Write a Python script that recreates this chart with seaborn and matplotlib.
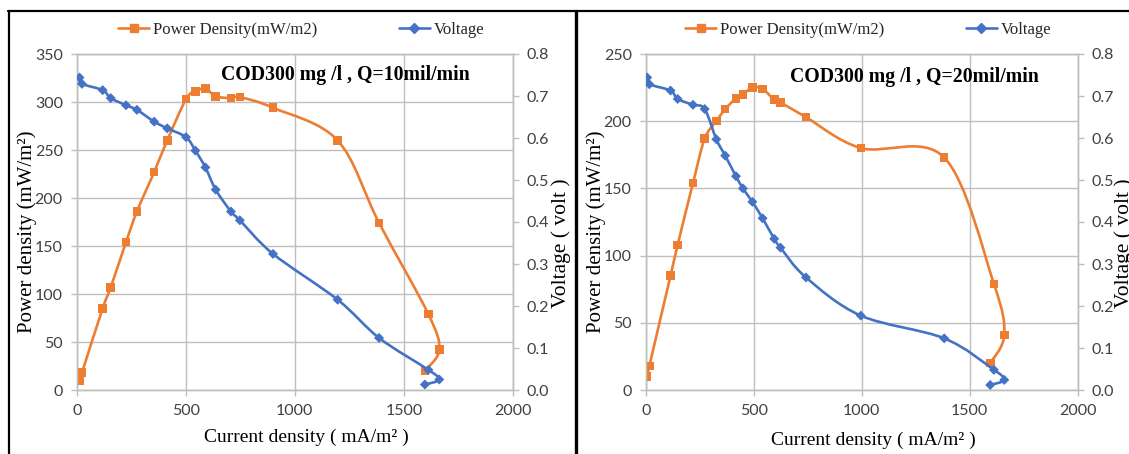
import numpy as np
import matplotlib
matplotlib.use("Agg")
import matplotlib.pyplot as plt
import seaborn as sns
import pandas as pd
from matplotlib.path import Path
from matplotlib.patches import PathPatch
from matplotlib.lines import Line2D

# ---------------- data ----------------
current_q10 = [13, 24, 119, 156, 226, 276, 355, 415, 501, 544, 590, 637, 707, 748, 900, 1196, 1386, 1612, 1662, 1596]
power_q10 = [10, 18, 85, 107, 154, 186, 227, 260, 303, 311, 314, 306, 304, 305, 294, 260, 174, 79, 42, 20]
voltage_q10 = [0.744, 0.729, 0.714, 0.695, 0.678, 0.667, 0.639, 0.623, 0.602, 0.570, 0.530, 0.477,
               0.425, 0.404, 0.324, 0.215, 0.124, 0.048, 0.025, 0.013]

current_q20 = [7, 17, 115, 148, 219, 273, 327, 368, 418, 450, 494, 541, 595, 624, 742, 996, 1382, 1612, 1660, 1595]
power_q20 = [10, 18, 85, 108, 154, 187, 200, 209, 217, 220, 225, 224, 216, 214, 203, 180, 173, 79, 41, 20]
voltage_q20 = [0.744, 0.728, 0.713, 0.693, 0.679, 0.669, 0.597, 0.558, 0.509, 0.480, 0.448, 0.409,
               0.360, 0.339, 0.268, 0.177, 0.123, 0.048, 0.024, 0.012]

titles = ["COD300 mg /l , Q=10mil/min", "COD300 mg /l , Q=20mil/min"]
x_ticks = [0, 500, 1000, 1500, 2000]
y_ticks_left = [list(range(0, 351, 50)), list(range(0, 251, 50))]
y_ticks_right = [0.0, 0.1, 0.2, 0.3, 0.4, 0.5, 0.6, 0.7, 0.8]
legend_labels = ["Power Density(mW/m2)", "Voltage"]

# ---------------- style ----------------
sns.set_theme(style="white")
plt.rcParams["font.family"] = ["Lato", "DejaVu Sans"]

ORANGE = "#ED7D31"
BLUE = "#4472C4"
GRID = "#BFBFBF"
TICKC = "#404040"
SERIF = ["Liberation Serif", "DejaVu Serif"]

W, H = 1129, 454
fig = plt.figure(figsize=(W / 100, H / 100), dpi=100)


def px(x, y):
    return x / W, 1 - y / H


def smooth_path(xs, ys):
    pts = np.column_stack([xs, ys]).astype(float)
    n = len(pts)
    verts = [pts[0]]
    codes = [Path.MOVETO]
    for i in range(n - 1):
        p0 = pts[i - 1] if i > 0 else pts[i]
        p1 = pts[i]
        p2 = pts[i + 1]
        p3 = pts[i + 2] if i + 2 < n else pts[i + 1]
        c1 = p1 + (p2 - p0) / 6.0
        c2 = p2 - (p3 - p1) / 6.0
        verts += [c1, c2, p2]
        codes += [Path.CURVE4] * 3
    return Path(verts, codes)


panels = [
    dict(cur=current_q10, pw=power_q10, v=voltage_q10, ymax=350, x0=76.7, x1=513,
         title=titles[0], tpos=(345, 75), legx=301, ylab_x=27, vlab_x=561, xlab=(306, 437)),
    dict(cur=current_q20, pw=power_q20, v=voltage_q20, ymax=250, x0=645.7, x1=1077.7,
         title=titles[1], tpos=(914, 77), legx=868, ylab_x=596, vlab_x=1124, xlab=(873, 440)),
]

top_px, bot_px = 54, 390
for k, p in enumerate(panels):
    l, b = px(p["x0"], bot_px)
    w = (p["x1"] - p["x0"]) / W
    h = (bot_px - top_px) / H
    ax = fig.add_axes([l, b, w, h])
    ax2 = ax.twinx()

    df = pd.DataFrame({"current": p["cur"], "power": p["pw"], "voltage": p["v"]})

    ax.add_patch(PathPatch(smooth_path(df["current"], df["power"]), facecolor="none",
                           edgecolor=ORANGE, lw=1.9, zorder=3, transform=ax.transData))
    sns.scatterplot(data=df, x="current", y="power", ax=ax, marker="s", s=38,
                    color=ORANGE, edgecolor="none", zorder=4, legend=False)

    ax2.add_patch(PathPatch(smooth_path(df["current"], df["voltage"]), facecolor="none",
                            edgecolor=BLUE, lw=1.9, zorder=3, transform=ax2.transData))
    sns.scatterplot(data=df, x="current", y="voltage", ax=ax2, marker="D", s=26,
                    color=BLUE, edgecolor="none", zorder=4, legend=False)

    ax.set_xlim(0, 2000)
    ax.set_ylim(0, p["ymax"])
    ax2.set_ylim(0, 0.8)
    ax.set_xticks(x_ticks)
    ax.set_yticks(y_ticks_left[k])
    ax2.set_yticks(y_ticks_right)
    ax2.set_yticklabels([f"{t:.1f}" for t in y_ticks_right])
    ax.set_xlabel("")
    ax.set_ylabel("")
    ax2.set_ylabel("")

    ax.grid(True, color=GRID, lw=1.0)
    ax.set_axisbelow(True)
    for a in (ax, ax2):
        for s in a.spines.values():
            s.set_color(GRID)
            s.set_linewidth(1.0)
        a.tick_params(colors=GRID, labelcolor=TICKC, labelsize=11.5, length=4, width=1,
                      direction="out")
    ax.tick_params(axis="both", pad=6)
    ax2.tick_params(axis="y", pad=6, right=True)
    ax.tick_params(axis="y", left=True)
    ax.tick_params(axis="x", bottom=True)

    # title inside plot
    tx, ty = px(*p["tpos"])
    fig.text(tx, ty, p["title"], ha="center", va="center", fontsize=14.2,
             fontweight="bold", family=SERIF, color="black")

    # axis labels
    xx, xy = px(*p["xlab"])
    fig.text(xx, xy, "Current density ( mA/m² )", ha="center", va="center",
             fontsize=14, family=SERIF, color="black")
    yx, yy = px(p["ylab_x"], 232)
    fig.text(yx, yy, "Power density (mW/m²)", ha="center", va="center", rotation=90,
             fontsize=15, family=SERIF, color="black")
    vx, vy = px(p["vlab_x"], 243)
    fig.text(vx, vy, "Voltage ( volt )", ha="center", va="center", rotation=90,
             fontsize=15.5, family=SERIF, color="black")

    # legend on top
    handles = [Line2D([0], [0], color=ORANGE, lw=1.9, marker="s", ms=6),
               Line2D([0], [0], color=BLUE, lw=1.9, marker="D", ms=5)]
    lx, ly = px(p["legx"], 30)
    fig.legend(handles, legend_labels, loc="center", bbox_to_anchor=(lx, ly), ncol=2,
               frameon=False, handlelength=1.9, handletextpad=0.2, columnspacing=4.9,
               prop={"family": SERIF, "size": 12})

# black frame lines of the source figure
fig.add_artist(Line2D([8 / W, 1], [1 - 11 / H, 1 - 11 / H], color="black", lw=1.6,
                      transform=fig.transFigure))
fig.add_artist(Line2D([9 / W, 9 / W], [0, 1 - 11 / H], color="black", lw=1.6,
                      transform=fig.transFigure))
fig.add_artist(Line2D([576 / W, 576 / W], [0, 1 - 11 / H], color="black", lw=2.4,
                      transform=fig.transFigure))

fig.savefig("out.png", dpi=100, facecolor="white")
